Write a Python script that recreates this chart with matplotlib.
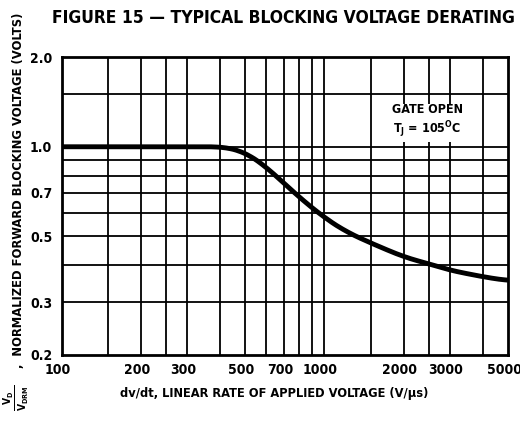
import matplotlib
matplotlib.use("Agg")
import matplotlib.pyplot as plt
from matplotlib.transforms import ScaledTranslation
import numpy as np

plt.rcParams['font.family'] = ['DejaVu Sans']
plt.rcParams['font.stretch'] = 'condensed'
plt.rcParams['font.weight'] = 'bold'
plt.rcParams['mathtext.fontset'] = 'custom'
plt.rcParams['mathtext.rm'] = 'DejaVu Sans:bold'
plt.rcParams['mathtext.it'] = 'DejaVu Sans:bold'

# curve
dvdt = [100, 200, 300, 400, 450, 500, 550, 600, 700, 800, 900, 1000, 1200, 1500, 2000, 2500, 3000, 4000, 5000]
vd_norm = [1.0, 1.0, 1.0, 1.0, 0.985, 0.955, 0.905, 0.855, 0.755, 0.678, 0.622, 0.578, 0.52, 0.475, 0.427, 0.404, 0.385, 0.366, 0.355]

# grid lines and labelled ticks
x_grid = [150, 200, 250, 300, 400, 500, 600, 700, 800, 900, 1000, 1500, 2000, 2500, 3000, 4000]
y_grid = [0.3, 0.4, 0.5, 0.6, 0.7, 0.8, 0.9, 1.0, 1.5]
x_ticks = [100, 200, 300, 500, 700, 1000, 2000, 3000, 5000]
y_ticks = [0.2, 0.3, 0.5, 0.7, 1.0, 2.0]

fig = plt.figure(figsize=(5.2, 4.23), dpi=100)
ax = fig.add_axes([0.119, 0.161, 0.858, 0.704])
ax.set_xscale('log')
ax.set_yscale('log')
ax.set_xlim(100, 5000)
ax.set_ylim(0.2, 2.0)

for gx in x_grid:
    ax.axvline(gx, color='black', lw=1.3, zorder=1)
for gy in y_grid:
    ax.axhline(gy, color='black', lw=1.3, zorder=1)

# smooth the read points a little on log axes
lx = np.log10(dvdt)
ly = np.log10(vd_norm)
fx = np.linspace(lx[0], lx[-1], 300)
fy = np.interp(fx, lx, ly)
k = 9
fy_s = np.convolve(np.pad(fy, k, mode='edge'), np.ones(2 * k + 1) / (2 * k + 1), mode='valid')
ax.plot(10 ** fx, 10 ** fy_s, color='black', lw=3.5, zorder=3, solid_capstyle='butt')

ax.set_xticks(x_ticks)
ax.set_xticklabels([str(v) for v in x_ticks])
ax.set_yticks(y_ticks)
ax.set_yticklabels([f"{v:.1f}" for v in y_ticks])
ax.minorticks_off()
ax.tick_params(length=0, labelsize=10, pad=7)
ax.tick_params(axis='x', pad=6)
shift = ScaledTranslation(-4 / 100, 0, fig.dpi_scale_trans)
for lab in ax.get_xticklabels():
    lab.set_transform(lab.get_transform() + shift)
for s in ax.spines.values():
    s.set_linewidth(2)

ax.text(2460, 1.22, "GATE OPEN\n$\\mathregular{T_J}$ = 105$^{\\mathregular{O}}$C", ha='center', va='center',
        fontsize=9, fontweight='bold', linespacing=1.25, zorder=4,
        bbox=dict(facecolor='white', edgecolor='none', pad=2))

fig.text(0.545, 1 - 18 / 423, "FIGURE 15 \u2014 TYPICAL BLOCKING VOLTAGE DERATING", ha='center', va='center',
         fontsize=12.5, fontweight='bold')
fig.text(0.528, 1 - 393 / 423, "dv/dt, LINEAR RATE OF APPLIED VOLTAGE (V/\u03bcs)", ha='center', va='center',
         fontsize=9.2, fontweight='bold')
fig.text(16 / 520, 1 - 398 / 423, r"$\frac{\mathregular{V_D}}{\mathregular{V_{DRM}}}$",
         rotation=90, ha='center', va='center', fontsize=10.5, fontweight='bold')
fig.text(19 / 520, 1 - 368 / 423, ",  NORMALIZED FORWARD BLOCKING VOLTAGE (VOLTS)",
         rotation=90, ha='center', va='bottom', fontsize=9.3, fontweight='bold')

fig.savefig("out.png", dpi=100)
